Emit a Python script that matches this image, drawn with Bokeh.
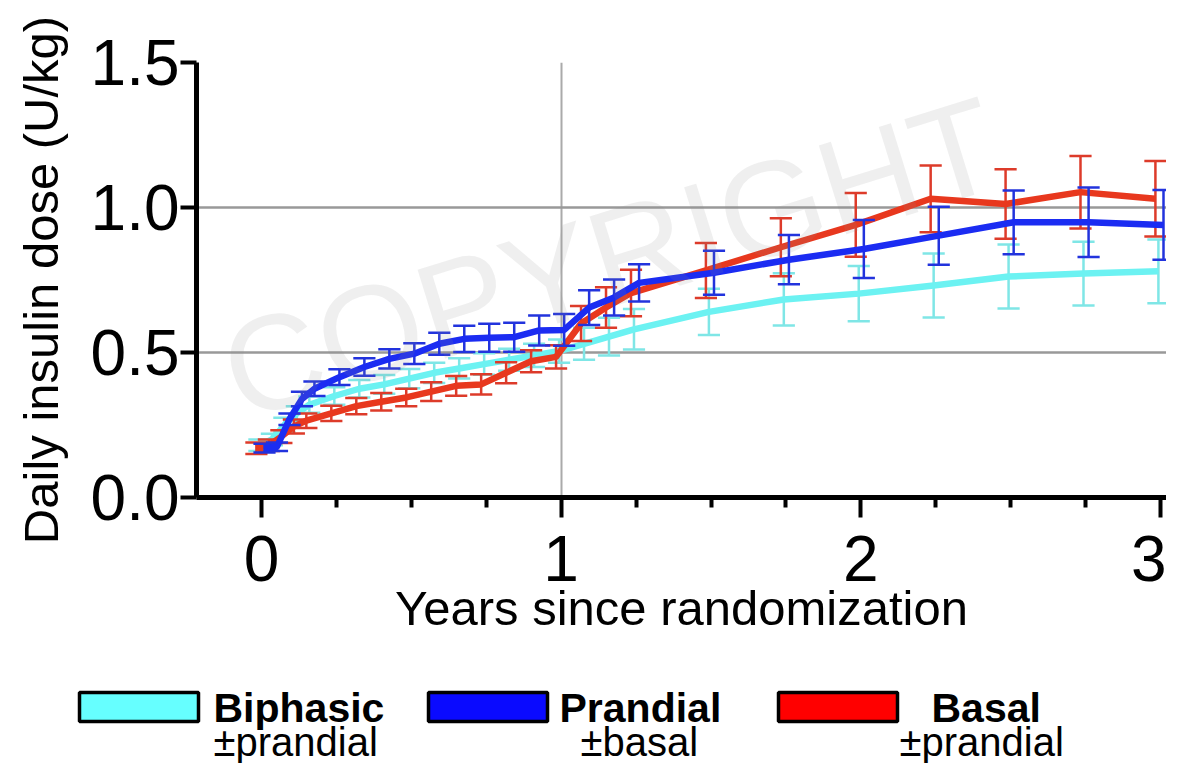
import numpy as np
from bokeh.plotting import figure
from bokeh.models import ColumnDataSource, FixedTicker, NumeralTickFormatter, Range1d, Label
from bokeh.layouts import column
from bokeh.embed import file_html
from bokeh.resources import INLINE
from bokeh.core.properties import value

# ---------------- data ----------------
months = [0, 0.5, 1, 1.5, 2, 3, 4, 5, 6, 7, 8, 9, 10, 11, 12, 13, 14, 15,
          18, 21, 24, 27, 30, 33, 36]

biphasic_mean = [0.18, 0.20, 0.25, 0.29, 0.32, 0.35, 0.375, 0.39, 0.41, 0.43, 0.445, 0.46,
                 0.475, 0.49, 0.505, 0.53, 0.555, 0.58, 0.64, 0.683, 0.703, 0.731, 0.762, 0.772, 0.78]
biphasic_err = [0.02, 0.02, 0.025, 0.025, 0.028, 0.03, 0.03, 0.032, 0.033, 0.035, 0.035, 0.037,
                0.038, 0.04, 0.04, 0.055, 0.065, 0.07, 0.08, 0.09, 0.095, 0.11, 0.11, 0.11, 0.11]

prandial_mean = [0.17, 0.175, 0.27, 0.34, 0.375, 0.415, 0.45, 0.478, 0.496, 0.53, 0.547, 0.551,
                 0.553, 0.576, 0.578, 0.655, 0.69, 0.74, 0.775, 0.82, 0.857, 0.903, 0.949, 0.949, 0.94]
prandial_err = [0.015, 0.015, 0.02, 0.025, 0.025, 0.027, 0.03, 0.033, 0.036, 0.038, 0.045, 0.048,
                0.05, 0.052, 0.055, 0.06, 0.062, 0.064, 0.076, 0.085, 0.10, 0.10, 0.11, 0.12, 0.12]

basal_mean = [0.17, 0.18, 0.21, 0.245, 0.265, 0.29, 0.315, 0.33, 0.345, 0.365, 0.385, 0.39,
              0.43, 0.47, 0.485, 0.60, 0.655, 0.705, 0.783, 0.863, 0.94, 1.03, 1.012, 1.053, 1.03]
basal_err = [0.02, 0.02, 0.022, 0.024, 0.025, 0.026, 0.028, 0.03, 0.03, 0.032, 0.034, 0.035,
             0.036, 0.038, 0.04, 0.06, 0.07, 0.08, 0.095, 0.10, 0.11, 0.115, 0.12, 0.125, 0.13]

series_names = ["Biphasic", "Prandial", "Basal"]
series_subs = ["\u00b1prandial", "\u00b1basal", "\u00b1prandial"]
x_ticks = [0, 1, 2, 3]
x_minor = [0.25, 0.5, 0.75, 1.25, 1.5, 1.75, 2.25, 2.5, 2.75]
y_ticks = [0.0, 0.5, 1.0, 1.5]
x_label = "Years since randomization"
y_label = "Daily insulin dose (U/kg)"
watermark = "COPYRIGHT"

# ---------------- style ----------------
FONT = "Liberation Sans"
line_colors = ["#6cf2f2", "#1b2cf2", "#e8381e"]
bar_colors = ["#7fe6e6", "#2233dd", "#dd3b2a"]
box_colors = ["#66ffff", "#0a0aff", "#ff0000"]
dodge_yr = [-0.007, 0.010, -0.017]   # small horizontal dodge (years)
cap_half = 0.037

years = np.array(months) / 12.0

p = figure(width=1166, height=650, output_backend="svg", toolbar_location=None,
           x_range=Range1d(-0.2169, 3.02), y_range=Range1d(0, 1.5),
           min_border_left=196, min_border_right=0, min_border_top=62, min_border_bottom=153)
p.outline_line_color = None
p.background_fill_color = "white"

all_series = [(biphasic_mean, biphasic_err), (prandial_mean, prandial_err), (basal_mean, basal_err)]
order = [0, 2, 1]  # cyan, red, blue on top
for idx in order:
    mean, err = all_series[idx]
    m = np.array(mean)
    e = np.array(err)
    xs = years + dodge_yr[idx]
    src = ColumnDataSource(dict(x=xs, lo=m - e, hi=m + e, m=m, cl=xs - cap_half, cr=xs + cap_half))
    p.segment(x0="x", y0="lo", x1="x", y1="hi", source=src, line_color=bar_colors[idx], line_width=2.5)
    p.segment(x0="cl", y0="hi", x1="cr", y1="hi", source=src, line_color=bar_colors[idx], line_width=2.5)
    p.segment(x0="cl", y0="lo", x1="cr", y1="lo", source=src, line_color=bar_colors[idx], line_width=2.5)
    p.line(x="x", y="m", source=src, line_color=line_colors[idx], line_width=6.5, line_join="round")

# watermark (kept inside the plot frame)
wm = Label(x=1.165, y=0.824, text=watermark, angle=0.30, text_font=FONT,
           text_font_size="135px", text_align="center", text_baseline="middle",
           text_color="#909090", text_alpha=0.14)
p.add_layout(wm)

# axes
p.xaxis.ticker = FixedTicker(ticks=x_ticks, minor_ticks=x_minor)
p.yaxis.ticker = FixedTicker(ticks=y_ticks)
p.yaxis.formatter = NumeralTickFormatter(format="0.0")
for ax in (p.xaxis[0], p.yaxis[0]):
    ax.axis_line_width = 5
    ax.axis_line_color = "black"
    ax.major_tick_line_width = 4
    ax.major_tick_line_color = "black"
    ax.major_tick_in = 0
    ax.major_label_text_font = FONT
    ax.major_label_text_font_size = "64px"
    ax.major_label_text_color = "black"
    ax.axis_label_text_font = FONT
    ax.axis_label_text_font_size = "49px"
    ax.axis_label_text_font_style = "normal"
    ax.axis_label_text_color = "black"
p.xaxis.major_tick_out = 20
p.xaxis.minor_tick_out = 10
p.xaxis.minor_tick_in = 0
p.xaxis.minor_tick_line_width = 4
p.xaxis.minor_tick_line_color = "black"
p.xaxis.major_label_standoff = 18
p.xaxis.axis_label = x_label
p.xaxis.axis_label_standoff = -3
p.yaxis.major_tick_out = 16
p.yaxis.minor_tick_line_color = None
p.yaxis.major_label_standoff = 1
p.yaxis.axis_label = y_label
p.yaxis.axis_label_standoff = 20

p.ygrid.ticker = FixedTicker(ticks=[0.5, 1.0, 1.5])
p.ygrid.grid_line_color = "#999999"
p.ygrid.grid_line_width = 2.5
p.xgrid.ticker = FixedTicker(ticks=[1])
p.xgrid.grid_line_color = "#aaaaaa"
p.xgrid.grid_line_width = 2

# ---------------- legend panel ----------------
lg = figure(width=1166, height=113, output_backend="svg", toolbar_location=None,
            x_range=Range1d(0, 1166), y_range=Range1d(0, 113),
            x_axis_location=None, y_axis_location=None, min_border=0)
lg.outline_line_color = None
lg.grid.visible = False
for fig in (p, lg):
    try:
        fig.frame_align = False
    except Exception:
        pass
box_left = [79, 428, 778]
box_width = 119
name_x = [213, 559, 931]
sub_x = [213, 580, 899]
lsrc = ColumnDataSource(dict(l=box_left, r=[b + box_width for b in box_left], b=[42] * 3, t=[71] * 3,
                             c=box_colors, nx=name_x, ny=[56] * 3, names=series_names,
                             sx=sub_x, sy=[22] * 3, subs=series_subs))
lg.quad(left="l", right="r", bottom="b", top="t", fill_color="c", line_color="black",
        line_width=3.5, source=lsrc)
lg.text(x="nx", y="ny", text="names", source=lsrc, text_font=value(FONT), text_font_style="bold",
        text_font_size="41px", text_color="black", text_baseline="alphabetic")
lg.text(x="sx", y="sy", text="subs", source=lsrc, text_font=value(FONT),
        text_font_size="40px", text_color="black", text_baseline="alphabetic")

layout = column(p, lg, spacing=0)
open("out.html", "w").write(file_html(layout, INLINE))
